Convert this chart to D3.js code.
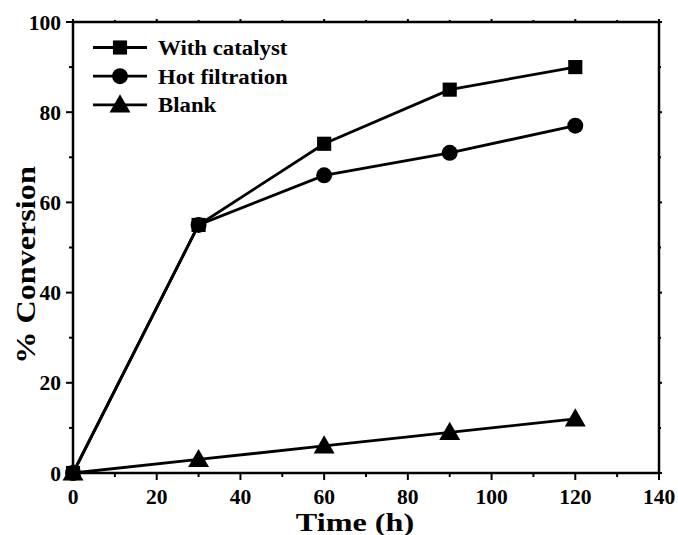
<!DOCTYPE html>
<html><head><meta charset="utf-8">
<script src="https://cdn.jsdelivr.net/npm/d3@7"></script>
<style>body{margin:0;background:#fff}svg{display:block}text{font-family:"Liberation Serif","Times New Roman",serif;font-weight:bold}</style>
</head><body><div id="chart"></div>
<script>
const timeH = [0, 30, 60, 90, 120];
const withCatalyst = [0, 55, 73, 85, 90];
const hotFiltration = [0, 55, 66, 71, 77];
const blank = [0, 3, 6, 9, 12];
const seriesNames = ["With catalyst", "Hot filtration", "Blank"];
const xTicks = [0, 20, 40, 60, 80, 100, 120, 140];
const yTicks = [0, 20, 40, 60, 80, 100];

const W = 678, H = 535;
const m = {left: 73, right: 19, top: 22, bottom: 62};
const svg = d3.select("#chart").append("svg").attr("width", W).attr("height", H);
const x = d3.scaleLinear().domain([0, 140]).range([m.left, W - m.right]);
const y = d3.scaleLinear().domain([0, 100]).range([H - m.bottom, m.top]);

const g = svg.append("g");
const x0 = x(0), x1 = x(140), y0 = y(0), y1 = y(100);

// frame
g.append("rect").attr("x", x0).attr("y", y1).attr("width", x1 - x0).attr("height", y0 - y1)
  .attr("fill", "none").attr("stroke", "#000").attr("stroke-width", 2.5);

// ticks: major + minor on all four sides
const xMinor = d3.range(10, 140, 20);
const yMinor = d3.range(10, 100, 20);
function tick(x1_, y1_, x2_, y2_) {
  g.append("line").attr("x1", x1_).attr("y1", y1_).attr("x2", x2_).attr("y2", y2_)
    .attr("stroke", "#000").attr("stroke-width", 2);
}
xTicks.forEach(v => { tick(x(v), y0, x(v), y0 + 7); tick(x(v), y1, x(v), y1 - 3); });
xMinor.forEach(v => { tick(x(v), y0, x(v), y0 + 4); tick(x(v), y1, x(v), y1 - 2); });
yTicks.forEach(v => { tick(x0, y(v), x0 - 7, y(v)); tick(x1, y(v), x1 + 3, y(v)); });
yMinor.forEach(v => { tick(x0, y(v), x0 - 4, y(v)); tick(x1, y(v), x1 + 2, y(v)); });

// tick labels
g.selectAll(".xl").data(xTicks).enter().append("text")
  .attr("x", d => x(d)).attr("y", y0 + 30.5).attr("text-anchor", "middle")
  .attr("font-size", 21.5).text(d => d);
g.selectAll(".yl").data(yTicks).enter().append("text")
  .attr("x", x0 - 12).attr("y", d => y(d) + 7.5).attr("text-anchor", "end")
  .attr("font-size", 21.5).text(d => d);

// axis titles (slightly wide lettering)
svg.append("text").attr("transform", `translate(355,531) scale(1.24,1)`).attr("text-anchor", "middle")
  .attr("font-size", 26).text("Time (h)");
svg.append("text").attr("transform", `translate(35,265) rotate(-90) scale(1.15,1)`)
  .attr("text-anchor", "middle").attr("font-size", 28).text("% Conversion");

// markers
const sym = [d3.symbolSquare, d3.symbolCircle, d3.symbolTriangle];
const symSize = [200, 200, 190];
const data = [withCatalyst, hotFiltration, blank];
const line = d3.line().x((d, i) => x(timeH[i])).y(d => y(d));

data.forEach((vals, k) => {
  g.append("path").attr("d", line(vals)).attr("fill", "none")
    .attr("stroke", "#000").attr("stroke-width", 2.8);
});
data.forEach((vals, k) => {
  g.selectAll(null).data(vals).enter().append("path")
    .attr("d", d3.symbol().type(sym[k]).size(symSize[k]))
    .attr("transform", (d, i) => `translate(${x(timeH[i])},${y(d) + (k === 2 ? 1.5 : 0)})`)
    .attr("fill", "#000");
});

// legend
const lg = svg.append("g");
seriesNames.forEach((name, k) => {
  const ly = 47.5 + k * 28.7;
  lg.append("line").attr("x1", 93).attr("x2", 147).attr("y1", ly).attr("y2", ly)
    .attr("stroke", "#000").attr("stroke-width", 2.8);
  lg.append("path").attr("d", d3.symbol().type(sym[k]).size(symSize[k])())
    .attr("transform", `translate(120,${ly + (k === 2 ? 1.5 : 0)})`).attr("fill", "#000");
  lg.append("text").attr("transform", `translate(158,${ly + 7.5}) scale(1.14,1)`)
    .attr("font-size", 20).text(name);
});
</script></body></html>
